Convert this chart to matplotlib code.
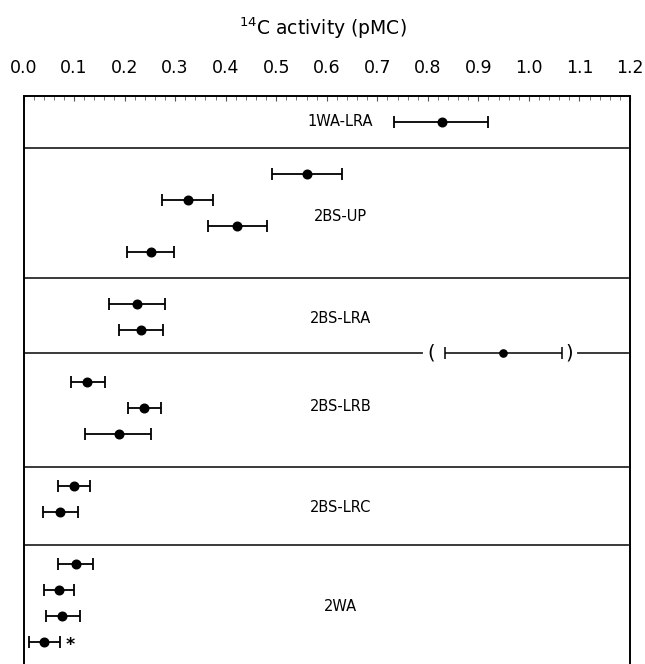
import matplotlib
matplotlib.use("Agg")
import matplotlib.pyplot as plt
from matplotlib.ticker import MultipleLocator

# ── Data: 14C activity (pMC), value with lower / upper bound ───────
groups = ["1WA-LRA", "2BS-UP", "2BS-LRA", "2BS-LRB", "2BS-LRC", "2WA"]

val_1wa_lra = [0.828]
lo_1wa_lra = [0.734]
hi_1wa_lra = [0.920]

val_2bs_up = [0.561, 0.326, 0.423, 0.252]
lo_2bs_up = [0.492, 0.274, 0.365, 0.205]
hi_2bs_up = [0.631, 0.375, 0.482, 0.298]

val_2bs_lra = [0.225, 0.232]
lo_2bs_lra = [0.169, 0.188]
hi_2bs_lra = [0.280, 0.276]

val_2bs_lrb = [0.126, 0.239, 0.188]
lo_2bs_lrb = [0.093, 0.206, 0.122]
hi_2bs_lrb = [0.162, 0.273, 0.253]

val_2bs_lrc = [0.100, 0.073]
lo_2bs_lrc = [0.068, 0.038]
hi_2bs_lrc = [0.132, 0.107]

val_2wa = [0.103, 0.070, 0.076, 0.041]
lo_2wa = [0.068, 0.041, 0.044, 0.010]
hi_2wa = [0.138, 0.099, 0.112, 0.072]

# bracketed outlier, drawn on the 2BS-LRA / 2BS-LRB boundary
val_outlier = [0.949]
lo_outlier = [0.833]
hi_outlier = [1.066]

xticks = [0.0, 0.1, 0.2, 0.3, 0.4, 0.5, 0.6, 0.7, 0.8, 0.9, 1.0, 1.1, 1.2]

# ── Layout (row units, top = 0) ─────────────────────────────────────
rows = [[1], [3, 4, 5, 6], [8, 9], [11, 12, 13], [15, 16], [18, 19, 20, 21]]
label_y = [1.0, 4.67, 8.56, 11.97, 15.83, 19.67]
separators = [2.0, 7.0, 9.9, 14.3, 17.3]
outlier_row = 9.9
star_row = 21

values = [val_1wa_lra, val_2bs_up, val_2bs_lra, val_2bs_lrb, val_2bs_lrc, val_2wa]
lows = [lo_1wa_lra, lo_2bs_up, lo_2bs_lra, lo_2bs_lrb, lo_2bs_lrc, lo_2wa]
highs = [hi_1wa_lra, hi_2bs_up, hi_2bs_lra, hi_2bs_lrb, hi_2bs_lrc, hi_2wa]

W, H = 645, 664
fig = plt.figure(figsize=(W / 100, H / 100), dpi=100)
plt.rcParams["font.family"] = "DejaVu Sans"

# axes frame: x 23.5..630 px, top at 95.5 px, bottom runs off the figure
px_left, px_right, px_top, px_bottom = 23.5, 630, 95.5, 690
row_px = 26.0
ax = fig.add_axes([px_left / W, 1 - px_bottom / H,
                   (px_right - px_left) / W, (px_bottom - px_top) / H])
ax.set_xlim(0, 1.2)
ax.set_ylim((px_bottom - px_top) / row_px, 0)

err_kw = dict(fmt="o", color="black", markersize=6.2, elinewidth=1.3,
              capsize=4.6, capthick=1.3, zorder=3)

for g, ys, v, lo, hi in zip(groups, rows, values, lows, highs):
    xerr = [[a - b for a, b in zip(v, lo)], [c - a for a, c in zip(v, hi)]]
    ax.errorbar(v, ys, xerr=xerr, **err_kw)

for g, y in zip(groups, label_y):
    ax.text(0.627, y, g, ha="center", va="center", fontsize=10.5)

# separators
sep_kw = dict(color="#2a2a2a", lw=1.3, zorder=2)
for s in separators:
    if s == outlier_row:
        ax.plot([0, 0.789], [s, s], **sep_kw)
        ax.plot([1.098, 1.196], [s, s], **sep_kw)
    else:
        ax.plot([0, 1.196], [s, s], **sep_kw)

# outlier in parentheses
oxerr = [[val_outlier[0] - lo_outlier[0]], [hi_outlier[0] - val_outlier[0]]]
ax.errorbar(val_outlier, [outlier_row], xerr=oxerr,
            **{**err_kw, "markersize": 5.2, "elinewidth": 1.1, "capthick": 1.1})
ax.text(0.806, outlier_row, "(", ha="center", va="center", fontsize=14)
ax.text(1.080, outlier_row, ")", ha="center", va="center", fontsize=14)

# asterisk
ax.text(0.093, star_row + 0.12, "*", ha="center", va="center", fontsize=12.5,
        fontweight="bold")

# ticks on top, pointing in
ax.xaxis.set_ticks_position("top")
ax.set_xticks(xticks)
ax.set_xticklabels([f"{t:.1f}" for t in xticks])
ax.xaxis.set_minor_locator(MultipleLocator(0.02))
ax.tick_params(axis="x", which="major", direction="in", length=3.8,
               width=0.8, color="#555555", pad=13, labelsize=12.5)
ax.tick_params(axis="x", which="minor", direction="in", length=2.6,
               width=0.7, color="#777777")
ax.set_yticks([])
for side in ["left", "right", "top", "bottom"]:
    ax.spines[side].set_linewidth(1.4)
    ax.spines[side].set_color("black")

fig.text(323 / W, 1 - 28 / H, r"$^{14}$C activity (pMC)",
         ha="center", va="center", fontsize=13.5)

fig.savefig("out.png", dpi=100)
